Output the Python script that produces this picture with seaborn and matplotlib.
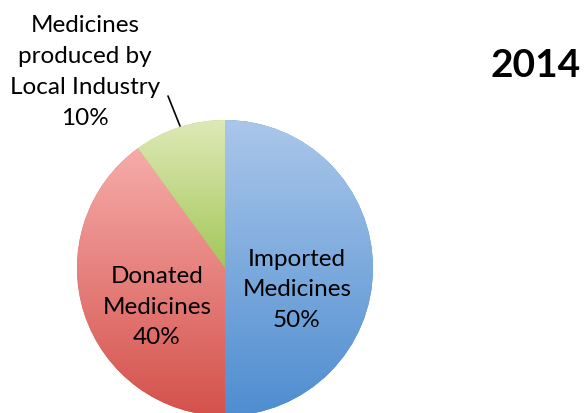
import numpy as np
import matplotlib
matplotlib.use("Agg")
import matplotlib.pyplot as plt
from matplotlib.colors import LinearSegmentedColormap
import seaborn as sns

categories = ["Imported\nMedicines", "Donated\nMedicines", "Medicines\nproduced by\nLocal Industry"]
values = [50, 40, 10]
top_colors = ["#AAC7EA", "#F6ACAA", "#DEE9B6"]
bottom_colors = ["#4E8DD0", "#D4514B", "#A3C759"]
title = "2014"

sns.set_theme(style="white")
plt.rcParams["font.family"] = ["Lato", "DejaVu Sans"]

W, H = 588, 414
cx, cy, R = 225, 269, 148
fig = plt.figure(figsize=(W / 100, H / 100), dpi=100)
ax = fig.add_axes([0, 0, 1, 1])

wedges, _ = ax.pie(values, startangle=90, counterclock=False, radius=1,
                   colors=bottom_colors, wedgeprops=dict(linewidth=0))
ax.set_aspect("auto")
ax.axis("off")

for w, tc, bc in zip(wedges, top_colors, bottom_colors):
    path = w.get_path()
    verts = path.vertices
    x0, x1 = verts[:, 0].min(), verts[:, 0].max()
    y0, y1 = verts[:, 1].min(), verts[:, 1].max()
    cmap = LinearSegmentedColormap.from_list("g", [bc, tc])
    grad = np.linspace(0, 1, 256).reshape(-1, 1)
    im = ax.imshow(grad, cmap=cmap, origin="lower", aspect="auto",
                   extent=[x0, x1, y0, y1], zorder=2, interpolation="bilinear")
    im.set_clip_path(w)
ax.set_xlim(-cx / R, (W - cx) / R)
ax.set_ylim(-(H - cy) / R, cy / R)

def px(x, y):
    return ((x - cx) / R, (cy - y) / R)

fs = 17.5
ls = 1.58
ax.text(*px(297, 290), "Imported\nMedicines\n50%", ha="center", va="center",
        fontsize=fs, linespacing=ls, zorder=3, color="black")
ax.text(*px(157, 307), "Donated\nMedicines\n40%", ha="center", va="center",
        fontsize=fs, linespacing=ls, zorder=3, color="black")
ax.text(*px(85, 72), "Medicines\nproduced by\nLocal Industry\n10%", ha="center", va="center",
        fontsize=fs, linespacing=ls, zorder=3, color="black")
lx0, ly0 = px(168, 97)
lx1, ly1 = px(180, 127)
ax.plot([lx0, lx1], [ly0, ly1], color="black", lw=1.2, zorder=3)

ax.text(*px(536, 65), title, ha="center", va="center", fontsize=28,
        fontweight="bold", zorder=3, color="black")

fig.savefig("out.png", dpi=100)
